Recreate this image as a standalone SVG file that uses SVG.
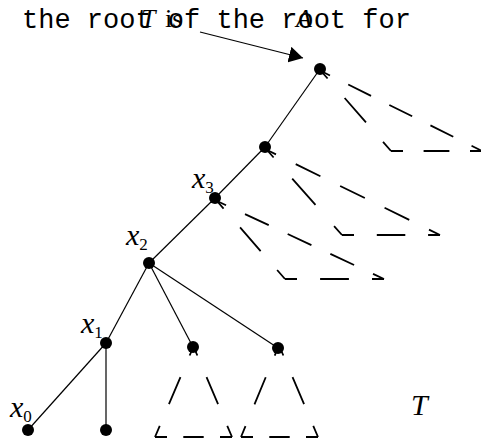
<svg xmlns="http://www.w3.org/2000/svg" width="481" height="442" viewBox="0 0 481 442">
<style>
.mono{font-family:"Liberation Mono","Courier New",monospace;font-size:27px;fill:#000}
.serif{font-family:"Liberation Serif","Times New Roman",serif;font-size:26px;fill:#000}
.lab{font-family:"Liberation Serif","Times New Roman",serif;font-size:30px;font-style:italic;fill:#000}
.it{font-style:italic}
.sub{font-size:17px;font-style:normal}
.edge{stroke:#000;stroke-width:1.2;fill:none}
.dash{stroke:#000;stroke-width:1.8;fill:none}
.node{fill:#000}
</style>
<defs>
<marker id="ah" viewBox="0 0 14 16" refX="14" refY="8" markerWidth="14" markerHeight="16" markerUnits="userSpaceOnUse" orient="auto">
<path d="M0,0 L14,8 L0,16 z" fill="#000"/>
</marker>
</defs>
<rect width="481" height="442" fill="#fff"/>
<g id="caption">
<text class="mono" x="22" y="28">the root of the root for</text>
<text class="serif it" x="141" y="27">T</text>
<text class="serif" x="165" y="27">is</text>
<text class="serif it" x="296" y="27">A</text>
</g>
<g id="connectors">
<line class="edge" x1="200" y1="32" x2="303" y2="58" marker-end="url(#ah)"/>
<line class="edge" x1="320" y1="69" x2="265" y2="147"/>
<line class="edge" x1="265" y1="147" x2="215" y2="198"/>
<line class="edge" x1="215" y1="198" x2="149" y2="263"/>
<line class="edge" x1="149" y1="263" x2="106" y2="343"/>
<line class="edge" x1="106" y1="343" x2="28" y2="430"/>
<line class="edge" x1="106" y1="343" x2="106" y2="430"/>
<line class="edge" x1="149" y1="263" x2="193" y2="347"/>
<line class="edge" x1="149" y1="263" x2="278" y2="348"/>
</g>
<g id="subtree-root">
<line class="dash" x1="321" y1="71" x2="391" y2="151" stroke-dasharray="32.4 25.9" stroke-dashoffset="22.4"/>
<line class="dash" x1="321" y1="71" x2="482" y2="151" stroke-dasharray="25.5 20.4" stroke-dashoffset="15.5"/>
<line class="dash" x1="391" y1="151" x2="482" y2="151" stroke-dasharray="25.8 20.6" stroke-dashoffset="13.8"/>
</g>
<g id="subtree-n4">
<line class="dash" x1="267" y1="150" x2="342" y2="235" stroke-dasharray="35.2 28.1" stroke-dashoffset="25.2"/>
<line class="dash" x1="267" y1="150" x2="440" y2="235" stroke-dasharray="27.5 22" stroke-dashoffset="17.5"/>
<line class="dash" x1="342" y1="235" x2="440" y2="235" stroke-dasharray="28.5 22.8" stroke-dashoffset="16.5"/>
</g>
<g id="subtree-x3">
<line class="dash" x1="217" y1="201" x2="285" y2="279" stroke-dasharray="31.3 25.1" stroke-dashoffset="21.3"/>
<line class="dash" x1="217" y1="201" x2="384" y2="279" stroke-dasharray="26.2 20.9" stroke-dashoffset="16.2"/>
<line class="dash" x1="285" y1="279" x2="384" y2="279" stroke-dasharray="28.8 23.1" stroke-dashoffset="16.8"/>
</g>
<g id="subtree-c1">
<line class="dash" x1="192" y1="350" x2="155" y2="437" stroke-dasharray="29.4 23.5" stroke-dashoffset="23.4"/>
<line class="dash" x1="195" y1="350" x2="232" y2="437" stroke-dasharray="29.4 23.5" stroke-dashoffset="23.4"/>
<line class="dash" x1="155" y1="437" x2="232" y2="437" stroke-dasharray="20.4 16.3" stroke-dashoffset="8.4"/>
</g>
<g id="subtree-c2">
<line class="dash" x1="277" y1="350" x2="241" y2="437" stroke-dasharray="29.4 23.5" stroke-dashoffset="23.4"/>
<line class="dash" x1="281" y1="350" x2="318" y2="437" stroke-dasharray="29.4 23.5" stroke-dashoffset="23.4"/>
<line class="dash" x1="241" y1="437" x2="318" y2="437" stroke-dasharray="20.4 16.3" stroke-dashoffset="8.4"/>
</g>
<g id="node-root"><circle class="node" cx="320" cy="69" r="6"/></g>
<g id="node-n4"><circle class="node" cx="265" cy="147" r="6"/></g>
<g id="node-x3"><circle class="node" cx="215" cy="198" r="6"/><text class="lab" x="192" y="188">x<tspan class="sub" dy="5">3</tspan></text></g>
<g id="node-x2"><circle class="node" cx="149" cy="263" r="6"/><text class="lab" x="126" y="245">x<tspan class="sub" dy="5">2</tspan></text></g>
<g id="node-x1"><circle class="node" cx="106" cy="343" r="6"/><text class="lab" x="81" y="333">x<tspan class="sub" dy="5">1</tspan></text></g>
<g id="node-x0"><circle class="node" cx="28" cy="430" r="6"/><text class="lab" x="10" y="417">x<tspan class="sub" dy="5">0</tspan></text></g>
<g id="node-leaf"><circle class="node" cx="106" cy="430" r="6"/></g>
<g id="node-c1"><circle class="node" cx="193" cy="347" r="6"/></g>
<g id="node-c2"><circle class="node" cx="278" cy="348" r="6"/></g>
<g id="label-T"><text class="lab" x="411" y="415">T</text></g>
</svg>
